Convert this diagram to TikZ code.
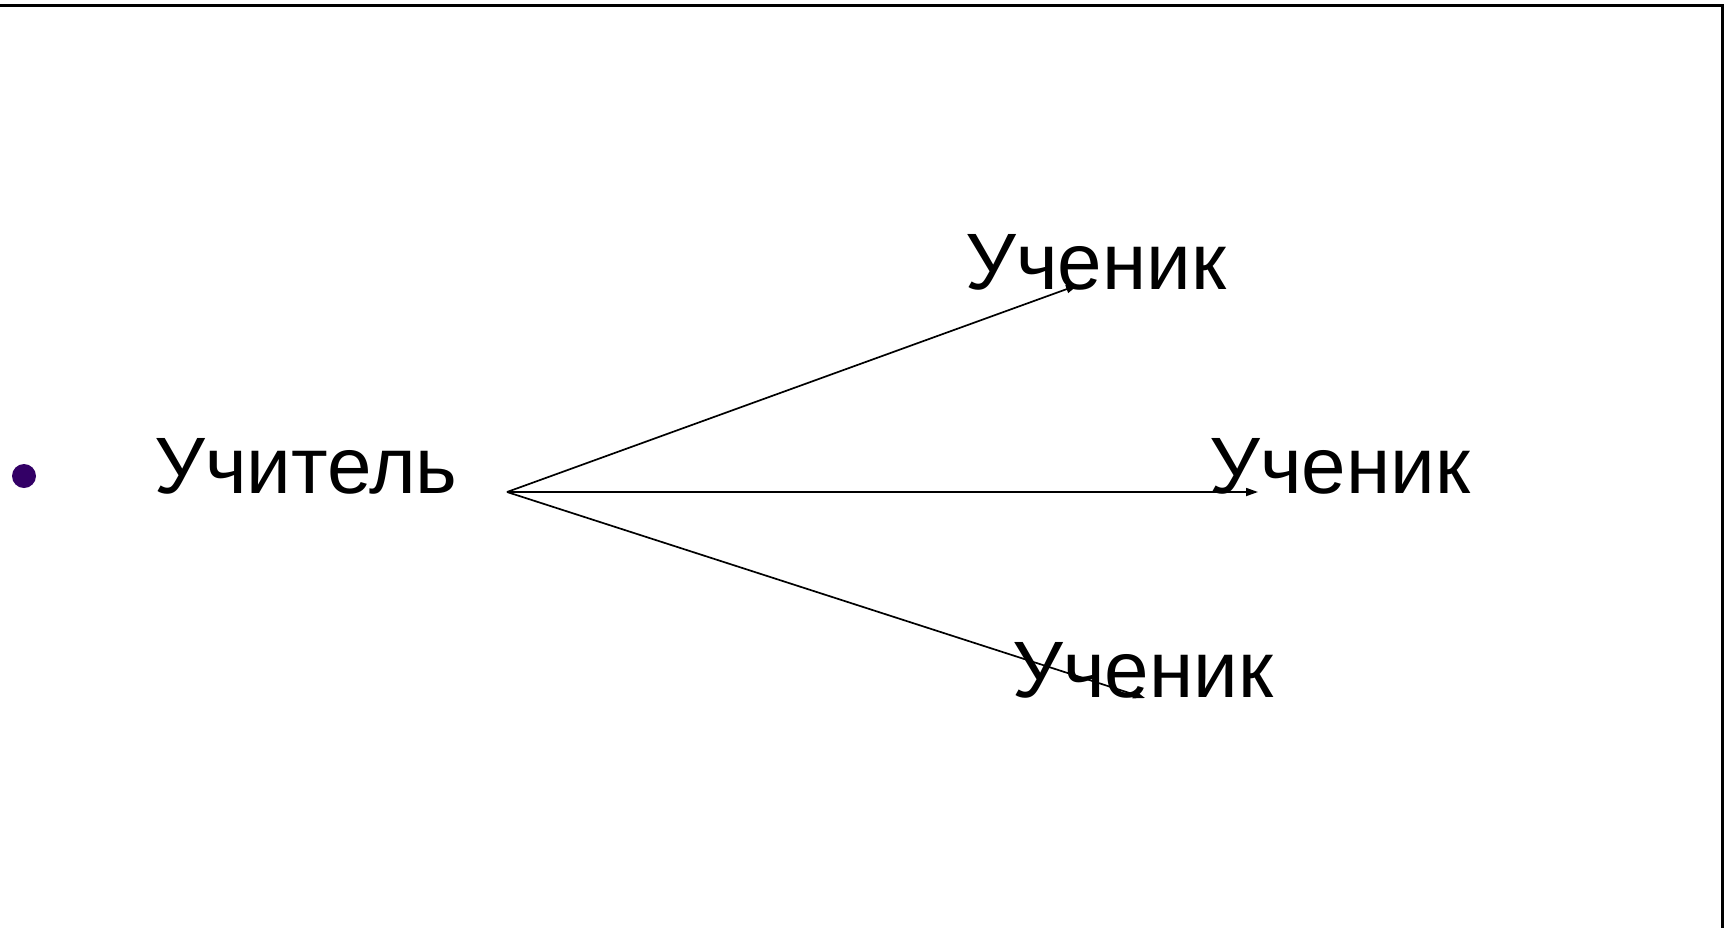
\documentclass[tikz,border=0pt]{standalone}
\usepackage{fontspec}
\setmainfont{Liberation Sans}
\usetikzlibrary{arrows.meta}
\definecolor{bulletc}{HTML}{330066}
\begin{document}
\begin{tikzpicture}[x=0.5pt,y=-0.5pt,
  lbl/.style={anchor=base west,inner sep=0pt,font=\fontsize{40pt}{48pt}\selectfont},
  conn/.style={line width=0.85pt,-{Triangle[length=6pt,width=4pt]}},
  frame/.style={line width=1.5pt}]
\useasboundingbox (0,0) rectangle (1729,928);
\fill[white] (0,0) rectangle (1729,928);
\draw[frame] (0,5.5) -- (1722.5,5.5) -- (1722.5,928);
\fill[bulletc] (24,476) circle (12);
\node[lbl] (teacher) at (154,493) {Учитель};
\node[lbl] (s1) at (965,289) {Ученик};
\node[lbl] (s2) at (1209,493) {Ученик};
\node[lbl] (s3) at (1012,697) {Ученик};
\coordinate (src) at (507,492);
\coordinate (e1) at (1078,285);
\coordinate (e2) at (1258,492);
\coordinate (e3) at (1145,698);
\draw[conn] (src) -- (e1);
\draw[conn] (src) -- (e2);
\draw[conn] (src) -- (e3);
\end{tikzpicture}
\end{document}
